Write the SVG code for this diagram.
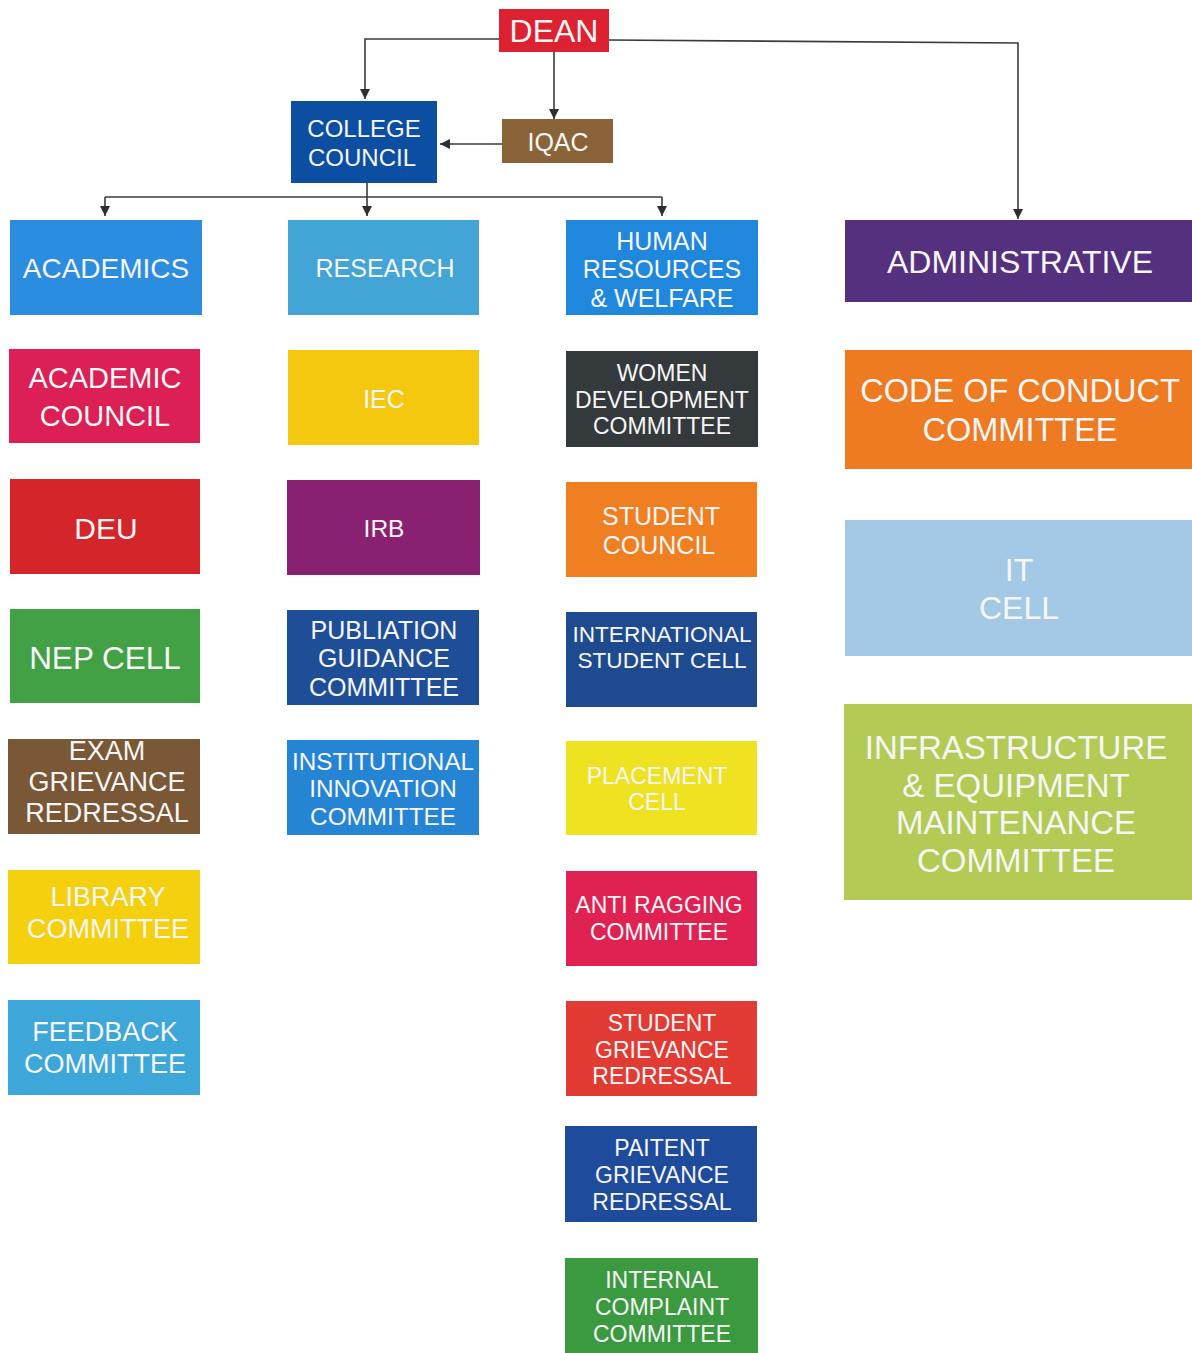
<svg xmlns="http://www.w3.org/2000/svg" width="1192" height="1353" viewBox="0 0 1192 1353">
<defs>
<style>
.t{font-family:"Liberation Sans",Arial,sans-serif;fill:#f6f6f6;text-anchor:middle;dominant-baseline:central}
.c{fill:none;stroke:#3a3a3a;stroke-width:1.6}
</style>
<marker id="ah" viewBox="0 0 10 10" refX="10" refY="5" markerWidth="10" markerHeight="10" markerUnits="userSpaceOnUse" orient="auto">
<path d="M0,0 L10,5 L0,10 Z" fill="#2e2e2e"/>
</marker>
</defs>
<rect width="1192" height="1353" fill="#ffffff"/>
<g id="connectors">
<path class="c" d="M499,39 H365 V99" marker-end="url(#ah)"/>
<path class="c" d="M554,52 V119" marker-end="url(#ah)"/>
<path class="c" d="M609,40 L1018,43 V219" marker-end="url(#ah)"/>
<path class="c" d="M502,144 H440" marker-end="url(#ah)"/>
<path class="c" d="M367,183 V216" marker-end="url(#ah)"/>
<path class="c" d="M105,197 H662"/>
<path class="c" d="M105,197 V216" marker-end="url(#ah)"/>
<path class="c" d="M662,197 V216" marker-end="url(#ah)"/>
</g>
<g id="dean"><rect x="499" y="9" width="110" height="43" fill="#dc2231"/><text class="t" x="554" y="31" font-size="32">DEAN</text></g>
<g id="college-council"><rect x="291" y="101" width="146" height="82" fill="#0c4ea2"/><text class="t" font-size="24"><tspan x="364" y="128">COLLEGE</tspan><tspan x="362" y="157">COUNCIL</tspan></text></g>
<g id="iqac"><rect x="502" y="119" width="111" height="44" fill="#8a6438"/><text class="t" x="558" y="142" font-size="25">IQAC</text></g>

<g id="academics"><rect x="10" y="220" width="192" height="95" fill="#2a8de0"/><text class="t" x="106" y="268" font-size="28">ACADEMICS</text></g>
<g id="research"><rect x="288" y="220" width="191" height="95" fill="#42a5d6"/><text class="t" x="385" y="268" font-size="25">RESEARCH</text></g>
<g id="hr-welfare"><rect x="566" y="220" width="192" height="95" fill="#1f87dc"/><text class="t" font-size="25"><tspan x="662" y="241">HUMAN</tspan><tspan x="662" y="269">RESOURCES</tspan><tspan x="662" y="298">&amp; WELFARE</tspan></text></g>
<g id="administrative"><rect x="845" y="220" width="347" height="82" fill="#55307f"/><text class="t" x="1020" y="262" font-size="32">ADMINISTRATIVE</text></g>

<g id="academic-council"><rect x="9" y="349" width="191" height="94" fill="#dc1f55"/><text class="t" font-size="29"><tspan x="105" y="378">ACADEMIC</tspan><tspan x="105" y="416">COUNCIL</tspan></text></g>
<g id="iec"><rect x="288" y="350" width="191" height="95" fill="#f3c80e"/><text class="t" x="384" y="399" font-size="25">IEC</text></g>
<g id="women-dev"><rect x="566" y="351" width="192" height="96" fill="#34393b"/><text class="t" font-size="23"><tspan x="662" y="373">WOMEN</tspan><tspan x="662" y="400">DEVELOPMENT</tspan><tspan x="662" y="426">COMMITTEE</tspan></text></g>
<g id="code-of-conduct"><rect x="845" y="350" width="347" height="119" fill="#ee7a22"/><text class="t" font-size="32.5"><tspan x="1020" y="391">CODE OF CONDUCT</tspan><tspan x="1020" y="430">COMMITTEE</tspan></text></g>

<g id="deu"><rect x="10" y="479" width="190" height="95" fill="#d4252a"/><text class="t" x="106" y="528" font-size="30">DEU</text></g>
<g id="irb"><rect x="287" y="480" width="193" height="95" fill="#8a2170"/><text class="t" x="384" y="528" font-size="24.5">IRB</text></g>
<g id="student-council"><rect x="566" y="482" width="191" height="95" fill="#f07f21"/><text class="t" font-size="25"><tspan x="661" y="516">STUDENT</tspan><tspan x="659" y="545">COUNCIL</tspan></text></g>
<g id="it-cell"><rect x="845" y="520" width="347" height="136" fill="#a3c9e6"/><text class="t" font-size="32"><tspan x="1019" y="570">IT</tspan><tspan x="1019" y="608">CELL</tspan></text></g>

<g id="nep-cell"><rect x="10" y="609" width="190" height="94" fill="#43a145"/><text class="t" x="105" y="658" font-size="31.5">NEP CELL</text></g>
<g id="publiation"><rect x="287" y="610" width="192" height="95" fill="#1e4e97"/><text class="t" font-size="25"><tspan x="384" y="630">PUBLIATION</tspan><tspan x="384" y="658">GUIDANCE</tspan><tspan x="384" y="687">COMMITTEE</tspan></text></g>
<g id="international"><rect x="566" y="612" width="191" height="95" fill="#1e4a8f"/><text class="t" font-size="22.6"><tspan x="662" y="634">INTERNATIONAL</tspan><tspan x="662" y="660">STUDENT CELL</tspan></text></g>
<g id="infrastructure"><rect x="844" y="704" width="348" height="196" fill="#b3cb55"/><text class="t" font-size="33"><tspan x="1016" y="747">INFRASTRUCTURE</tspan><tspan x="1016" y="785">&amp; EQUIPMENT</tspan><tspan x="1016" y="822">MAINTENANCE</tspan><tspan x="1016" y="860">COMMITTEE</tspan></text></g>

<g id="exam-grievance"><rect x="8" y="739" width="192" height="95" fill="#7a5836"/><text class="t" font-size="27"><tspan x="107" y="751">EXAM</tspan><tspan x="107" y="782">GRIEVANCE</tspan><tspan x="107" y="813">REDRESSAL</tspan></text></g>
<g id="institutional-innovation"><rect x="287" y="740" width="192" height="95" fill="#2585d4"/><text class="t" font-size="24.3"><tspan x="383" y="761">INSTITUTIONAL</tspan><tspan x="383" y="788">INNOVATION</tspan><tspan x="383" y="816">COMMITTEE</tspan></text></g>
<g id="placement"><rect x="566" y="741" width="191" height="94" fill="#efe221"/><text class="t" font-size="23"><tspan x="657" y="776">PLACEMENT</tspan><tspan x="657" y="802">CELL</tspan></text></g>

<g id="library"><rect x="8" y="870" width="192" height="94" fill="#f4d00e"/><text class="t" font-size="27"><tspan x="108" y="897">LIBRARY</tspan><tspan x="108" y="929">COMMITTEE</tspan></text></g>
<g id="anti-ragging"><rect x="566" y="871" width="191" height="95" fill="#e02253"/><text class="t" font-size="23"><tspan x="659" y="905">ANTI RAGGING</tspan><tspan x="659" y="932">COMMITTEE</tspan></text></g>

<g id="feedback"><rect x="8" y="1000" width="192" height="95" fill="#3ea7da"/><text class="t" font-size="27"><tspan x="105" y="1032">FEEDBACK</tspan><tspan x="105" y="1064">COMMITTEE</tspan></text></g>
<g id="student-grievance"><rect x="566" y="1001" width="191" height="95" fill="#e23b34"/><text class="t" font-size="23"><tspan x="662" y="1023">STUDENT</tspan><tspan x="662" y="1050">GRIEVANCE</tspan><tspan x="662" y="1076">REDRESSAL</tspan></text></g>
<g id="paitent-grievance"><rect x="565" y="1126" width="192" height="96" fill="#1f4b9c"/><text class="t" font-size="23"><tspan x="662" y="1148">PAITENT</tspan><tspan x="662" y="1175">GRIEVANCE</tspan><tspan x="662" y="1202">REDRESSAL</tspan></text></g>
<g id="internal-complaint"><rect x="565" y="1258" width="193" height="95" fill="#3b9a40"/><text class="t" font-size="23"><tspan x="662" y="1280">INTERNAL</tspan><tspan x="662" y="1307">COMPLAINT</tspan><tspan x="662" y="1334">COMMITTEE</tspan></text></g>
</svg>
